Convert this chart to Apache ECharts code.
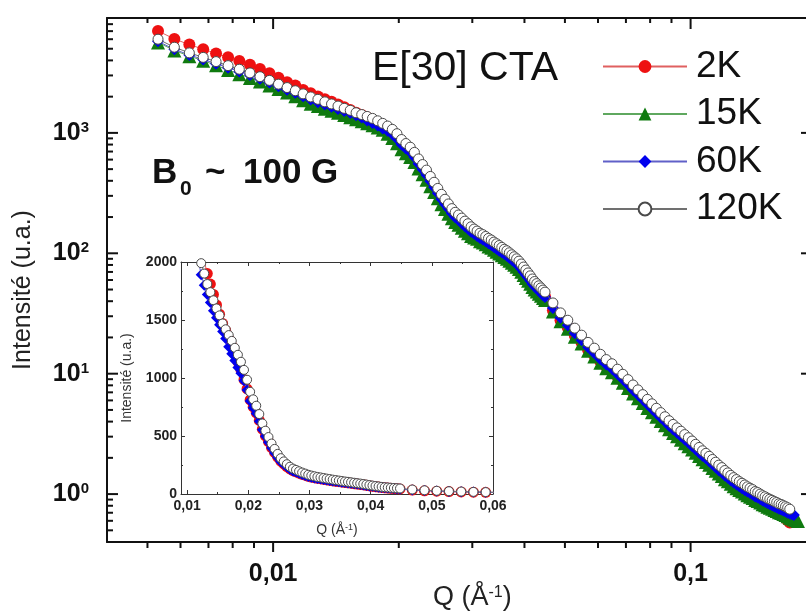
<!DOCTYPE html>
<html>
<head>
<meta charset="utf-8">
<script src="https://cdn.jsdelivr.net/npm/echarts@6/dist/echarts.min.js"></script>
<style>
html, body { margin: 0; padding: 0; background: #fff; }
#chart { width: 806px; height: 616px; }
</style>
</head>
<body>
<div id="chart"></div>
<script>
var FONT = 'Liberation Sans, Arial, sans-serif';

// Q (1/Å), shared by the four curves
var q = [
    0.0053, 0.0058, 0.0063, 0.0068, 0.0073, 0.0078, 0.0083, 0.0088, 0.0093, 0.0098,
    0.0103, 0.0108, 0.0113, 0.0118, 0.0123, 0.0128, 0.0133, 0.0138, 0.0143, 0.0148,
    0.0153, 0.0158, 0.0163, 0.0168, 0.0173, 0.0178, 0.0183, 0.0188, 0.0193, 0.0198,
    0.0203, 0.0208, 0.0213, 0.0218, 0.0223, 0.0228, 0.0233, 0.0238, 0.0243, 0.0248,
    0.0253, 0.0258, 0.0263, 0.0268, 0.0273, 0.0278, 0.0283, 0.0288, 0.0293, 0.0298,
    0.0303, 0.0308, 0.0313, 0.0318, 0.0323, 0.0328, 0.0333, 0.0338, 0.0343, 0.0348,
    0.0353, 0.0358, 0.0363, 0.0368, 0.0373, 0.0378, 0.0383, 0.0388, 0.0393, 0.0398,
    0.0403, 0.0408, 0.0413, 0.0418, 0.0423, 0.0428, 0.0433, 0.0438, 0.0443, 0.0448,
    0.0468, 0.0488, 0.0508, 0.0528, 0.0548, 0.0568, 0.0588, 0.0608, 0.0628, 0.0648,
    0.0668, 0.0688, 0.0708, 0.0728, 0.0748, 0.0768, 0.0788, 0.0808, 0.0828, 0.0848,
    0.0868, 0.0888, 0.0908, 0.0928, 0.0948, 0.0968, 0.0988, 0.1008, 0.1028, 0.1048,
    0.1068, 0.1088, 0.1108, 0.1128, 0.1148, 0.1168, 0.1188, 0.1208, 0.1228, 0.1248,
    0.1268, 0.1288, 0.1308, 0.1328, 0.1348, 0.1368, 0.1388, 0.1408, 0.1428, 0.1448,
    0.1468, 0.1488, 0.1508, 0.1528, 0.1548, 0.1568, 0.1588, 0.1608, 0.1628, 0.1648,
    0.1668, 0.1688, 0.1708, 0.1728, 0.1748, 0.1768, 0.1788, 0.1808
];

var i2K = [
    7020, 6030, 5410, 4960, 4570, 4240, 3950, 3680, 3400, 3130,
    2870, 2640, 2470, 2270, 2130, 2010, 1900, 1810, 1720, 1630,
    1550, 1470, 1410, 1340, 1280, 1210, 1140, 1070, 987, 906,
    811, 751, 700, 634, 559, 502, 452, 400, 358, 318,
    284, 259, 236, 216, 201, 191, 180, 170, 162, 153,
    146, 141, 135, 132, 127, 122, 118, 114, 110, 107,
    103, 99.7, 96.3, 92.8, 89.4, 86.1, 82.8, 79.2, 75.0, 70.7,
    66.8, 63.2, 59.8, 56.3, 53.6, 51.5, 49.4, 47.5, 45.5, 43.8,
    33.7, 27.8, 24.2, 20.8, 18.2, 15.8, 14.2, 12.6, 11.4, 10.5,
    9.48, 8.60, 7.77, 7.01, 6.39, 5.83, 5.32, 4.89, 4.49, 4.13,
    3.82, 3.54, 3.30, 3.09, 2.90, 2.71, 2.56, 2.40, 2.25, 2.12,
    1.99, 1.90, 1.79, 1.69, 1.60, 1.51, 1.44, 1.37, 1.31, 1.24,
    1.19, 1.15, 1.10, 1.07, 1.04, 1.00, 0.974, 0.948, 0.914, 0.896,
    0.870, 0.844, 0.827, 0.800, 0.780, 0.760, 0.740, 0.720, 0.700, 0.680,
    0.655, 0.630, 0.605, 0.580, null, null, null, null
];

var i15K = [
    5640, 4840, 4340, 3980, 3640, 3330, 3070, 2860, 2670, 2480,
    2310, 2160, 2020, 1870, 1750, 1670, 1590, 1530, 1470, 1410,
    1350, 1300, 1250, 1200, 1160, 1110, 1060, 982, 907, 822,
    731, 677, 632, 572, 505, 453, 408, 361, 323, 287,
    256, 233, 213, 195, 182, 173, 163, 154, 147, 139,
    135, 132, 126, 123, 119, 114, 111, 107, 103, 99.7,
    96.3, 93.2, 90.0, 86.8, 83.6, 80.5, 77.4, 74.0, 70.1, 66.1,
    62.4, 59.1, 55.9, 52.6, 50.1, 48.2, 46.2, 44.4, 42.6, 40.9,
    32.9, 27.2, 23.6, 20.3, 17.8, 15.5, 13.9, 12.3, 11.1, 10.3,
    9.27, 8.41, 7.59, 6.85, 6.24, 5.70, 5.20, 4.78, 4.39, 4.04,
    3.73, 3.46, 3.22, 3.02, 2.83, 2.65, 2.50, 2.35, 2.20, 2.07,
    1.95, 1.85, 1.75, 1.65, 1.56, 1.48, 1.41, 1.33, 1.28, 1.22,
    1.16, 1.12, 1.08, 1.05, 1.01, 0.978, 0.952, 0.927, 0.893, 0.876,
    0.850, 0.825, 0.808, 0.786, 0.770, 0.754, 0.738, 0.724, 0.707, 0.697,
    0.683, 0.669, 0.655, 0.637, 0.626, 0.616, 0.606, 0.597
];

var i60K = [
    5760, 4940, 4440, 4070, 3750, 3480, 3240, 3020, 2810, 2620,
    2440, 2280, 2150, 2020, 1890, 1800, 1720, 1650, 1580, 1520,
    1460, 1400, 1340, 1270, 1210, 1150, 1090, 1040, 976, 896,
    802, 743, 693, 627, 553, 497, 447, 396, 354, 315,
    281, 256, 234, 214, 199, 189, 178, 168, 160, 151,
    145, 139, 134, 130, 126, 121, 117, 113, 109, 105,
    102, 98.6, 95.3, 91.8, 88.5, 85.2, 81.9, 78.4, 74.2, 70.0,
    66.1, 62.5, 59.2, 55.7, 53.1, 51.0, 48.9, 47.0, 45.0, 43.3,
    35.2, 29.1, 25.3, 21.7, 19.0, 16.6, 14.8, 13.2, 11.9, 11.0,
    9.92, 9.00, 8.13, 7.33, 6.68, 6.10, 5.57, 5.11, 4.70, 4.32,
    4.00, 3.70, 3.45, 3.23, 3.03, 2.84, 2.68, 2.51, 2.36, 2.22,
    2.08, 1.98, 1.87, 1.77, 1.67, 1.58, 1.51, 1.43, 1.37, 1.30,
    1.25, 1.20, 1.16, 1.12, 1.08, 1.05, 1.02, 0.992, 0.956, 0.937,
    0.910, 0.883, 0.865, 0.842, 0.824, 0.807, 0.790, 0.775, 0.757, 0.746,
    0.731, 0.716, 0.701, 0.690, 0.680, 0.670, null, null
];

var i120K = [
    6000, 5150, 4620, 4240, 3910, 3620, 3380, 3150, 2930, 2730,
    2540, 2380, 2240, 2110, 1990, 1900, 1810, 1740, 1670, 1600,
    1540, 1470, 1420, 1370, 1320, 1260, 1200, 1140, 1070, 985,
    881, 816, 761, 689, 608, 546, 491, 435, 389, 346,
    309, 281, 257, 235, 219, 208, 196, 185, 176, 166,
    159, 153, 147, 143, 138, 133, 129, 124, 120, 116,
    112, 108, 105, 101, 97.2, 93.6, 90.0, 86.1, 81.5, 76.9,
    72.6, 68.7, 65.0, 61.2, 58.3, 56.0, 53.7, 51.6, 49.5, 47.6,
    38.7, 32.0, 27.8, 23.9, 20.9, 18.2, 16.3, 14.5, 13.1, 12.1,
    10.9, 9.89, 8.93, 8.06, 7.34, 6.70, 6.12, 5.62, 5.16, 4.75,
    4.39, 4.07, 3.79, 3.55, 3.33, 3.12, 2.94, 2.76, 2.59, 2.44,
    2.29, 2.18, 2.06, 1.94, 1.84, 1.74, 1.66, 1.57, 1.50, 1.43,
    1.37, 1.32, 1.27, 1.23, 1.19, 1.15, 1.12, 1.09, 1.05, 1.03,
    1.00, 0.97, 0.95, 0.925, 0.906, 0.887, 0.868, 0.852, 0.832, 0.820,
    0.803, 0.787, 0.770, 0.749, null, null, null, null
];

var names = ['2K', '15K', '60K', '120K'];

// tick values
var xMajor = [0.01, 0.1];
var xMinor = [0.005, 0.006, 0.007, 0.008, 0.009, 0.02, 0.03, 0.04, 0.05, 0.06, 0.07, 0.08, 0.09];
var yMajor = [1, 10, 100, 1000];
var yMinor = [0.5, 0.6, 0.7, 0.8, 0.9, 2, 3, 4, 5, 6, 7, 8, 9, 20, 30, 40, 50, 60, 70, 80, 90,
    200, 300, 400, 500, 600, 700, 800, 900, 2000, 3000, 4000, 5000, 6000, 7000, 8000];
var insetXLabels = [0.01, 0.02, 0.03, 0.04, 0.05, 0.06];

function pairs(arr) {
    return q.map(function (x, i) { return [x, arr[i]]; });
}

var styles = [
    { symbol: 'circle', size: 12, color: '#ee1111', line: '#e06060', border: null },
    { symbol: 'triangle', size: 14, color: '#0f7a0f', line: '#5fa85f', border: null },
    { symbol: 'diamond', size: 12, color: '#0000ee', line: '#6060c8', border: null },
    { symbol: 'circle', size: 10, color: '#ffffff', line: '#707070', border: '#4a4a4a' }
];
var values = [i2K, i15K, i60K, i120K];

var blackLine = { show: true, onZero: false, lineStyle: { color: '#111', width: 2 } };
var insetLine = { show: true, onZero: false, lineStyle: { color: '#333', width: 1 } };

var mainMin = 0.004, mainMax = 0.189;
var mainYMin = 0.4, mainYMax = 9000;

var insetTick = { show: true, inside: true, length: 4, lineStyle: { color: '#333', width: 1 } };
var insetMinor = { show: true, splitNumber: 2, length: 2, lineStyle: { color: '#333', width: 1 } };

var xAxes = [
    { gridIndex: 0, type: 'log', min: mainMin, max: mainMax, position: 'bottom',
      axisLine: blackLine, axisTick: { show: false }, splitLine: { show: false },
      axisLabel: { customValues: xMajor, margin: 20, fontSize: 25, fontWeight: 'bold', fontFamily: FONT, color: '#111',
          formatter: function (v) { return String(Number(v.toPrecision(3))).replace('.', ','); } } },
    { gridIndex: 0, type: 'log', min: mainMin, max: mainMax, position: 'top',
      axisLine: blackLine, axisTick: { show: false }, axisLabel: { show: false }, splitLine: { show: false } },
    { gridIndex: 1, type: 'value', min: 0.009, max: 0.06, splitNumber: 5, position: 'bottom',
      axisLine: insetLine, axisTick: insetTick, minorTick: insetMinor,
      axisLabel: { customValues: insetXLabels, margin: 5, fontSize: 14, fontWeight: 'bold', fontFamily: FONT, color: '#222',
          formatter: function (v) { return v.toFixed(2).replace('.', ','); } },
      name: '{a|Q (Å}{s|-1}{a|)}', nameLocation: 'middle', nameGap: 29,
      nameTextStyle: { rich: {
          a: { fontSize: 14, fontFamily: FONT, color: '#333' },
          s: { fontSize: 9, fontFamily: FONT, color: '#333', verticalAlign: 'top' } } },
      splitLine: { show: false } },
    { gridIndex: 1, type: 'value', min: 0.009, max: 0.06, splitNumber: 5, position: 'top',
      axisLine: insetLine, axisTick: insetTick, minorTick: insetMinor,
      axisLabel: { show: false }, splitLine: { show: false } }
];

var yAxes = [
    { gridIndex: 0, type: 'log', min: mainYMin, max: mainYMax, position: 'left',
      axisLine: blackLine, axisTick: { show: false }, splitLine: { show: false },
      axisLabel: { customValues: yMajor, margin: 18,
          formatter: function (v) { return '{b|10}{s|' + Math.round(Math.log10(v)) + '}'; },
          rich: {
              b: { fontSize: 25, fontWeight: 'bold', fontFamily: FONT, color: '#111' },
              s: { fontSize: 15, fontWeight: 'bold', fontFamily: FONT, color: '#111', verticalAlign: 'top' } } } },
    // right frame line sits just past the canvas edge, only its ticks show
    { gridIndex: 0, type: 'log', min: mainYMin, max: mainYMax, position: 'right', offset: 2,
      axisLine: blackLine, axisTick: { show: false }, axisLabel: { show: false }, splitLine: { show: false } },
    { gridIndex: 1, type: 'value', min: 0, max: 2000, interval: 500, position: 'left',
      axisLine: insetLine, axisTick: insetTick, minorTick: insetMinor,
      axisLabel: { margin: 4, fontSize: 14, fontWeight: 'bold', fontFamily: FONT, color: '#222',
          formatter: function (v) { return String(v); } },
      name: 'Intensité (u.a.)', nameLocation: 'middle', nameGap: 47,
      nameTextStyle: { fontSize: 14, fontFamily: FONT, color: '#333' },
      splitLine: { show: false } },
    { gridIndex: 1, type: 'value', min: 0, max: 2000, interval: 500, position: 'right',
      axisLine: insetLine, axisTick: insetTick, minorTick: insetMinor,
      axisLabel: { show: false }, splitLine: { show: false } }
];

// frame ticks of the log plot: [x, y, length, side] (side 0 bottom-out, 1 top-in, 2 left-in, 3 right-in)
var tickData = [];
xMajor.forEach(function (v) { tickData.push([v, mainYMin, 10, 0], [v, mainYMax, 11, 1]); });
xMinor.forEach(function (v) { tickData.push([v, mainYMin, 6, 0], [v, mainYMax, 5, 1]); });
yMajor.forEach(function (v) { tickData.push([mainMin, v, 11, 2], [mainMax, v, 5, 3]); });
yMinor.forEach(function (v) { tickData.push([mainMin, v, 6, 2]); });

var series = [];
values.forEach(function (arr, k) {
    var s = styles[k];
    var item = { color: s.color };
    if (s.border) { item.borderColor = s.border; item.borderWidth = 1; }
    series.push({
        name: names[k], type: 'line', xAxisIndex: 0, yAxisIndex: 0,
        data: pairs(arr), symbol: s.symbol, symbolSize: s.size, showSymbol: true,
        itemStyle: item, lineStyle: { color: s.line, width: 1 },
        emphasis: { disabled: true }, z: 2 + k
    });
});
// inset: 2K, 60K, 120K
[0, 2, 3].forEach(function (k) {
    var s = styles[k];
    var item = { color: s.color };
    if (s.border) { item.borderColor = s.border; item.borderWidth = 1; }
    series.push({
        name: names[k], type: 'line', xAxisIndex: 2, yAxisIndex: 2,
        data: pairs(values[k]), symbol: s.symbol, symbolSize: s.size - 1, showSymbol: true,
        itemStyle: item, lineStyle: { color: s.line, width: 1 }, clip: true,
        emphasis: { disabled: true }, z: 10 + k
    });
});
series.push({
    type: 'custom', xAxisIndex: 0, yAxisIndex: 0, clip: false, silent: true, z: 20,
    data: tickData, encode: { x: 0, y: 1 },
    renderItem: function (params, api) {
        var p = api.coord([api.value(0), api.value(1)]);
        var len = api.value(2), side = api.value(3);
        var dx = [0, 0, 1, -1][side], dy = [1, 1, 0, 0][side];
        return {
            type: 'line',
            shape: { x1: p[0], y1: p[1], x2: p[0] + dx * len, y2: p[1] + dy * len },
            style: { stroke: '#111', lineWidth: 2 }
        };
    }
});

var chart = echarts.init(document.getElementById('chart'), null, { renderer: 'canvas' });
chart.setOption({
    animation: false,
    backgroundColor: '#fff',
    textStyle: { fontFamily: FONT },
    grid: [
        { left: 107, top: 18, width: 700, height: 524, show: false },
        { left: 181, top: 262, width: 312, height: 232, show: false }
    ],
    xAxis: xAxes,
    yAxis: yAxes,
    legend: {
        data: names, orient: 'vertical', left: 602, top: 48, padding: 0,
        itemWidth: 84, itemHeight: 16, itemGap: 10.5, selectedMode: false,
        textStyle: { fontSize: 37, fontFamily: FONT, color: '#111', lineHeight: 37, padding: [0, 0, 0, 4] }
    },
    graphic: [
        { type: 'text', x: 23, y: 290, rotation: Math.PI / 2,
          style: { text: 'Intensité (u.a.)', fontSize: 25, fontFamily: FONT, fill: '#222',
                   textAlign: 'center', textVerticalAlign: 'middle', align: 'center', verticalAlign: 'middle' } },
        { type: 'text', x: 433, y: 598,
          style: { text: '{a|Q (Å}{s|-1}{a|)}', fill: '#222', textVerticalAlign: 'middle', verticalAlign: 'middle',
                   rich: { a: { fontSize: 27, fontFamily: FONT, fill: '#222' },
                           s: { fontSize: 16, fontFamily: FONT, fill: '#222', verticalAlign: 'top' } } } },
        { type: 'text', x: 372, y: 69,
          style: { text: 'E[30] CTA', fontSize: 41, fontFamily: FONT, fill: '#111',
                   textVerticalAlign: 'middle', verticalAlign: 'middle' } },
        { type: 'text', x: 152, y: 173,
          style: { text: 'B', fontSize: 35, fontWeight: 'bold', fontFamily: FONT, fill: '#111',
                   textVerticalAlign: 'middle', verticalAlign: 'middle' } },
        { type: 'text', x: 180, y: 189,
          style: { text: '0', fontSize: 21, fontWeight: 'bold', fontFamily: FONT, fill: '#111',
                   textVerticalAlign: 'middle', verticalAlign: 'middle' } },
        { type: 'text', x: 205, y: 173,
          style: { text: '~', fontSize: 35, fontWeight: 'bold', fontFamily: FONT, fill: '#111',
                   textVerticalAlign: 'middle', verticalAlign: 'middle' } },
        { type: 'text', x: 243, y: 173,
          style: { text: '100', fontSize: 35, fontWeight: 'bold', fontFamily: FONT, fill: '#111',
                   textVerticalAlign: 'middle', verticalAlign: 'middle' } },
        { type: 'text', x: 311, y: 173,
          style: { text: 'G', fontSize: 35, fontWeight: 'bold', fontFamily: FONT, fill: '#111',
                   textVerticalAlign: 'middle', verticalAlign: 'middle' } }
    ],
    series: series
});
</script>
</body>
</html>
